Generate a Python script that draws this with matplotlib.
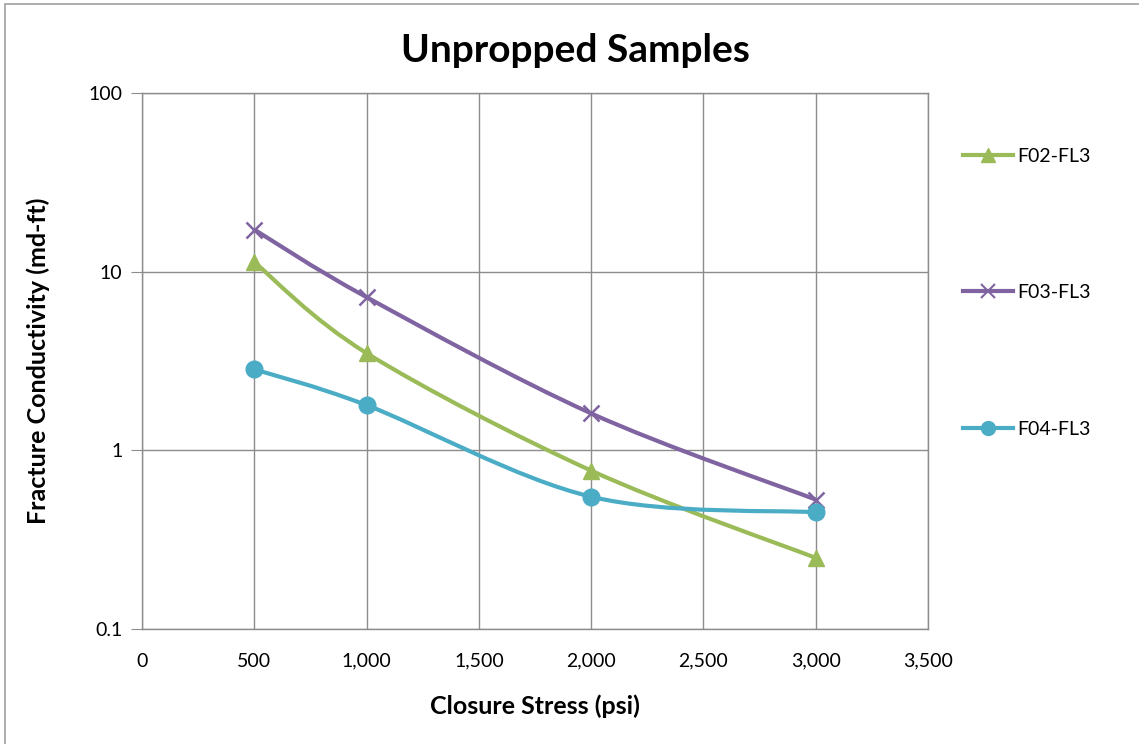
import numpy as np
import matplotlib.pyplot as plt
from matplotlib.path import Path
from matplotlib.patches import PathPatch, Rectangle
from matplotlib.lines import Line2D
from matplotlib.ticker import FixedLocator, FixedFormatter, NullLocator

plt.rcParams['font.family'] = ['Lato', 'DejaVu Sans']

# data
stress = [500, 1000, 2000, 3000]
f02_fl3 = [11.3, 3.5, 0.77, 0.25]
f03_fl3 = [17.2, 7.2, 1.61, 0.53]
f04_fl3 = [2.84, 1.79, 0.55, 0.45]
series_names = ['F02-FL3', 'F03-FL3', 'F04-FL3']
y_ticks = [0.1, 1, 10, 100]
y_labels = ['0.1', '1', '10', '100']
x_ticks = [0, 500, 1000, 1500, 2000, 2500, 3000, 3500]

colors = ['#9BBB59', '#8064A2', '#4BACC6']
markers = ['^', 'x', 'o']


# smooth line like Excel's "smoothed line" (Catmull-Rom bezier in log space)
def smooth_path(xs, ys):
    xs = np.asarray(xs, float)
    ly = np.log10(ys)
    n = len(xs)
    verts = [(xs[0], ys[0])]
    codes = [Path.MOVETO]
    for i in range(n - 1):
        p0 = i - 1 if i > 0 else i
        p3 = i + 2 if i + 2 < n else i + 1
        c1x = xs[i] + (xs[i + 1] - xs[p0]) / 6
        c1y = ly[i] + (ly[i + 1] - ly[p0]) / 6
        c2x = xs[i + 1] - (xs[p3] - xs[i]) / 6
        c2y = ly[i + 1] - (ly[p3] - ly[i]) / 6
        verts += [(c1x, 10 ** c1y), (c2x, 10 ** c2y), (xs[i + 1], ys[i + 1])]
        codes += [Path.CURVE4] * 3
    return Path(verts, codes)


fig = plt.figure(figsize=(11.39, 7.44), dpi=100)
ax = fig.add_axes([142 / 1139, 1 - 629 / 744, (928 - 142) / 1139, (629 - 93) / 744])

ax.set_yscale('log')
ax.set_xlim(0, 3500)
ax.set_ylim(0.1, 100)

handles = []
for ys, c, m, name in zip([f02_fl3, f03_fl3, f04_fl3], colors, markers, series_names):
    ax.add_patch(PathPatch(smooth_path(stress, ys), facecolor='none', edgecolor=c, lw=3, zorder=3))
    if m == 'x':
        ax.plot(stress, ys, linestyle='none', marker=m, ms=12, mew=1.8, color=c, zorder=4)
    else:
        ax.plot(stress, ys, linestyle='none', marker=m, ms=12, color=c, zorder=4)
    handles.append(Line2D([], [], color=c, lw=3, marker=m, ms=10,
                          mew=1.5 if m == 'x' else 1, label=name))

ax.xaxis.set_major_locator(FixedLocator(x_ticks))
ax.set_xticklabels([f'{v:,}' for v in x_ticks])
ax.yaxis.set_major_locator(FixedLocator(y_ticks))
ax.yaxis.set_major_formatter(FixedFormatter(y_labels))
ax.yaxis.set_minor_locator(NullLocator())

ax.grid(True, color='#8C8C8C', lw=1)
ax.set_axisbelow(True)
for s in ax.spines.values():
    s.set_color('#8C8C8C')
    s.set_linewidth(1)
ax.tick_params(axis='y', length=8, color='#8C8C8C', labelsize=14, pad=6)
ax.tick_params(axis='x', length=0, labelsize=14, pad=17)

ax.set_xlabel('Closure Stress (psi)', fontsize=18, fontweight='bold', labelpad=18)
ax.set_ylabel('Fracture Conductivity (md-ft)', fontsize=18, fontweight='bold', labelpad=28)
fig.text(575 / 1139, 1 - 50 / 744, 'Unpropped Samples', fontsize=28, fontweight='bold',
         ha='center', va='center')

fig.legend(handles=handles, loc='upper left', bbox_to_anchor=(945 / 1139, 1 - 130 / 744),
           frameon=False, fontsize=14, labelspacing=6.15, handlelength=2.6, handletextpad=0.2)

# chart border
fig.add_artist(Rectangle((5 / 1139, -0.1), 1.2, 1 - 4 / 744 + 0.1, transform=fig.transFigure,
                         fill=False, edgecolor='#A0A0A0', lw=1.2))

fig.savefig('out.png', dpi=100)
